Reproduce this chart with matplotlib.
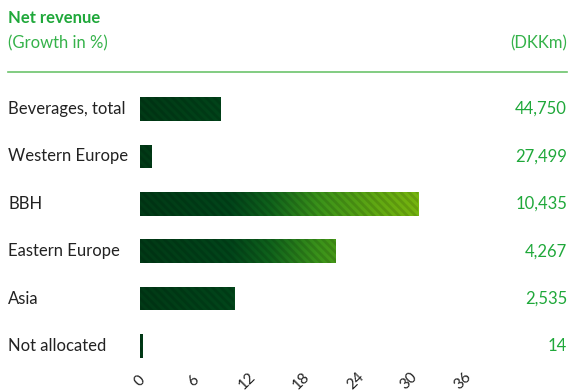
import matplotlib
matplotlib.use("Agg")
import matplotlib.pyplot as plt
import numpy as np
from matplotlib.colors import LinearSegmentedColormap

categories = ["Beverages, total", "Western Europe", "BBH", "Eastern Europe", "Asia", "Not allocated"]
growth = [9.0, 1.3, 31.0, 21.8, 10.5, 0.25]
revenue_labels = ["44,750", "27,499", "10,435", "4,267", "2,535", "14"]
xticks = [0, 6, 12, 18, 24, 30, 36]

FONT = "Lato"
GREEN = "#1fa83a"
LIGHT_GREEN = "#35b24a"
TEXT = "#222222"

plt.rcParams["font.family"] = [FONT, "DejaVu Sans"]
plt.rcParams["hatch.linewidth"] = 2.0

W, H = 571, 392
fig = plt.figure(figsize=(W / 100, H / 100), dpi=100)

def fx(px):
    return px / W

def fy(py):
    return 1 - py / H

left, right = 140, 463
top, bottom = 85.3, 369.7
ax = fig.add_axes([fx(left), fy(bottom), (right - left) / W, (bottom - top) / H])
for s in ax.spines.values():
    s.set_visible(False)
ax.set_yticks([])
ax.set_xticks(xticks)
ax.set_xticklabels([str(t) for t in xticks], rotation=45, ha="center", va="center",
                   rotation_mode="anchor", fontsize=11, color=TEXT)
ax.tick_params(axis="x", length=0, pad=8)

cmap = LinearSegmentedColormap.from_list(
    "beer",
    [(0.0, "#013a16"), (0.28, "#02451a"), (0.40, "#0f621c"),
     (0.55, "#3a921a"), (0.75, "#64aa12"), (0.86, "#76b50f"), (1.0, "#80bc0e")])
grad = np.linspace(0, 1, 512).reshape(1, -1)

bars = ax.barh(range(len(categories)), growth, height=0.5, color="none", linewidth=0)
for b in bars:
    im = ax.imshow(grad, cmap=cmap, aspect="auto", extent=[0, 36, 5.5, -0.5],
                   interpolation="bilinear", zorder=1)
    im.set_clip_path(b)
ax.barh(range(len(categories)), growth, height=0.5, facecolor="none",
        edgecolor=(0, 0, 0, 0.12), hatch="\\\\\\\\", linewidth=0, zorder=2)
ax.set_xlim(0, 36)
ax.set_ylim(len(categories) - 0.5, -0.5)

for i, (c, v) in enumerate(zip(categories, revenue_labels)):
    y = 109 + 47.4 * i
    fig.text(fx(8), fy(y), c, ha="left", va="center", fontsize=12, color=TEXT)
    fig.text(fx(567), fy(y), v, ha="right", va="center", fontsize=12, color=GREEN)

fig.text(fx(8), fy(18), "Net revenue", ha="left", va="center", fontsize=12,
         fontweight="bold", color=GREEN)
fig.text(fx(8), fy(43), "(Growth in %)", ha="left", va="center", fontsize=12, color=LIGHT_GREEN)
fig.text(fx(567), fy(43), "(DKKm)", ha="right", va="center", fontsize=12, color=LIGHT_GREEN)
fig.add_artist(plt.Line2D([fx(8), fx(567)], [fy(72), fy(72)], color="#6cc46c", lw=1.2))

fig.savefig("out.png", dpi=100)
